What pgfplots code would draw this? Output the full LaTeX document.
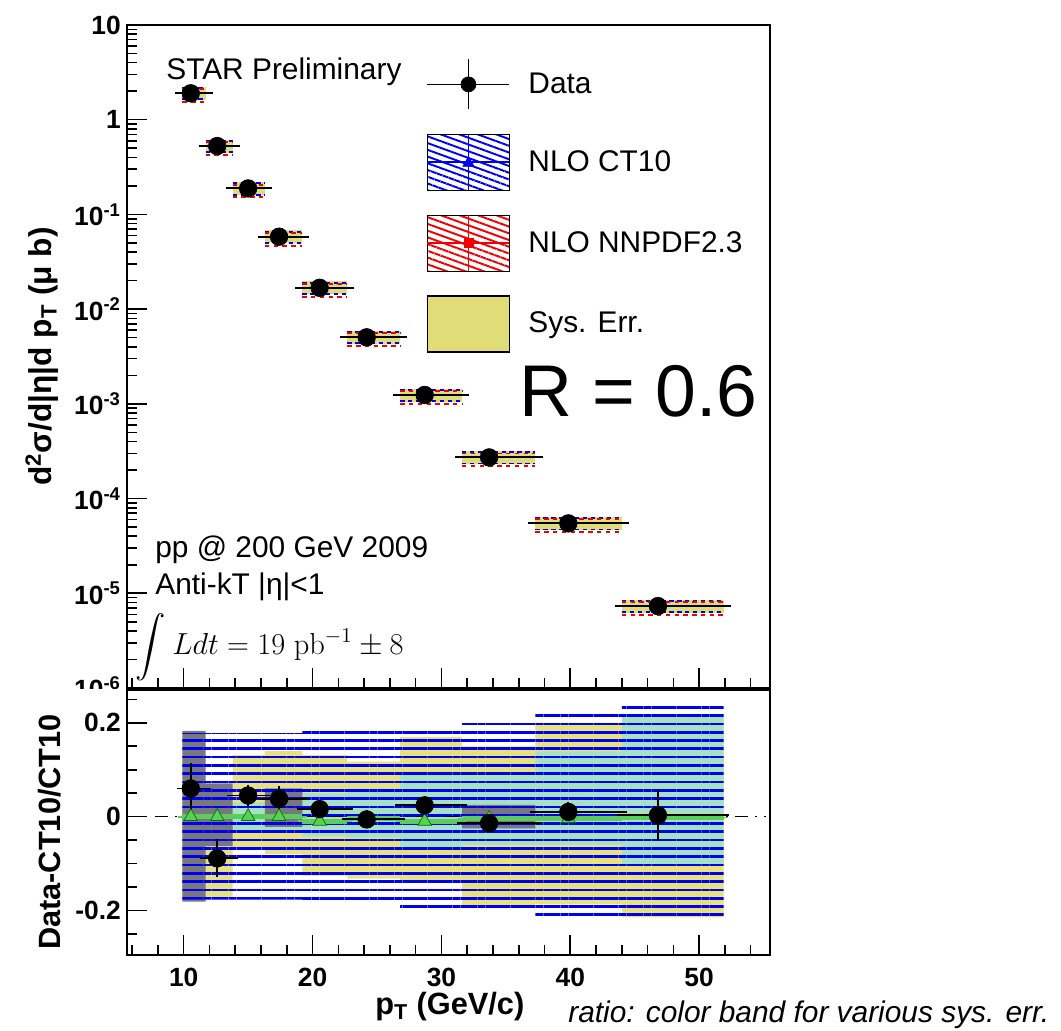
\documentclass[border=0pt]{standalone}
\usepackage{pgfplots}
\pgfplotsset{compat=1.18}
\usepackage{pgfplotstable}
\usepgfplotslibrary{fillbetween}
\usetikzlibrary{patterns,patterns.meta}
\usepackage{exscale}
\usepackage[no-math]{fontspec}
\setmainfont{Liberation Sans}

\definecolor{sysyellow}{RGB}{224,221,120}
\definecolor{bandyellow}{RGB}{232,226,122}
\definecolor{bandgreen}{RGB}{165,226,192}
\definecolor{bandgray}{RGB}{120,120,124}
\definecolor{ptgreen}{RGB}{90,205,90}
\definecolor{rootblue}{RGB}{0,0,240}
\definecolor{rootred}{RGB}{240,0,0}

% cross section, one row per bin
\pgfplotstableread{
x     y        xlo  xhi
10.55 1.90     9.9  11.7
12.6  0.527    11.7 13.8
15.0  0.188    13.8 16.3
17.4  0.0582   16.3 19.2
20.55 0.0168   19.2 22.7
24.2  0.00504  22.7 26.8
28.7  0.00124  26.8 31.6
33.7  2.72e-4  31.6 37.3
39.85 5.47e-5  37.3 44.0
46.8  7.33e-6  44.0 51.9
}\spec

% same values on bin edges (last edge repeated) for the boxes
\pgfplotstableread{
e    v
9.9  1.90
11.7 0.527
13.8 0.188
16.3 0.0582
19.2 0.0168
22.7 0.00504
26.8 0.00124
31.6 2.72e-4
37.3 5.47e-5
44.0 7.33e-6
51.9 7.33e-6
}\specbins

% ratio panel bands: CT10 theory, sys. err (yellow), green and gray components
\pgfplotstableread{
e    ctH   ctL    syH   syL    grH   grL    gyH   gyL
9.9  0.178 -0.177 0.064 -0.172 0     0      0.183 -0.181
11.7 0.178 -0.177 0.064 -0.172 0     0      0.071 -0.063
13.8 0.178 -0.177 0.131 -0.065 0.030 -0.030 0     0
16.3 0.178 -0.177 0.140 -0.080 0.030 -0.030 0.060 -0.022
19.2 0.194 -0.187 0.131 -0.126 0.050 -0.042 0     0
22.7 0.194 -0.187 0.117 -0.132 0.060 -0.045 0     0
26.8 0.194 -0.204 0.170 -0.137 0.095 -0.065 0     0
31.6 0.210 -0.204 0.150 -0.190 0.088 -0.060 0.025 -0.025
37.3 0.220 -0.219 0.200 -0.187 0.139 -0.060 0     0
44.0 0.238 -0.219 0.217 -0.215 0.217 -0.102 0     0
51.9 0.238 -0.219 0.217 -0.215 0.217 -0.102 0     0
}\ratiobands

\pgfplotstableread{
x     y      ey    xlo  xhi
10.55 0.060  0.043 9.9  11.7
12.6  -0.089 0.029 11.7 13.8
15.0  0.045  0.012 13.8 16.3
17.4  0.038  0.015 16.3 19.2
20.55 0.016  0.008 19.2 22.7
24.2  -0.006 0.008 22.7 26.8
28.7  0.024  0.008 26.8 31.6
33.7  -0.014 0.008 31.6 37.3
39.85 0.010  0.010 37.3 44.0
46.8  0.003  0.042 44.0 51.9
}\ratiodata

\pgfplotstableread{
x     y      xlo  xhi
10.55 0.000  9.9  11.7
12.6  0.000  11.7 13.8
15.0  0.000  13.8 16.3
17.4  0.000  16.3 19.2
20.55 -0.010 19.2 22.7
24.2  -0.004 22.7 26.8
28.7  -0.010 26.8 31.6
33.7  -0.004 31.6 37.3
39.85 -0.004 37.3 44.0
46.8  -0.002 44.0 51.9
}\nnpdf

\begin{document}
\begin{tikzpicture}

\begin{axis}[
  at={(2.54cm,6.86cm)}, anchor=south west,
  scale only axis, width=12.86cm, height=13.26cm,
  xmin=5.6, xmax=55.5, ymode=log, ymin=1e-6, ymax=10,
  axis line style={line width=1.1pt},
  tick align=inside, xtick pos=left, ytick pos=left,
  every tick/.style={black, line width=0.9pt},
  major tick length=0.4cm, minor tick length=0.2cm,
  xtick={10,20,30,40,50}, minor xtick={6,8,...,54}, xticklabels={},
  yticklabel={\pgfmathtruncatemacro{\ex}{round(\tick/2.302585)}\ifnum\ex=0 1\else\ifnum\ex=1 10\else 10\textsuperscript{\ex}\fi\fi},
  yticklabel style={font=\fontsize{15}{15}\selectfont\bfseries},
  ylabel={d\textsuperscript{2}σ/d|η|d p\textsubscript{T} (μ b)},
  ylabel style={font=\fontsize{18}{20}\selectfont\bfseries, at={(axis description cs:-0.132,0.5)}, anchor=center},
  legend cell align=left,
  legend style={at={(0.445,0.959)}, anchor=north west, draw=none, fill=white,
    inner xsep=0.26cm, inner ysep=0.12cm, row sep=0.46cm, column sep=0.36cm,
    font=\fontsize{17}{20}\selectfont, nodes={inner sep=0pt}},
]
  % sys. err boxes: one thick step per bin, no risers
  \addplot[sysyellow, line width=0.26cm, jump mark left, forget plot] table[x=e, y=v] {\specbins};
  % NLO bands, visible as dashed edges round the boxes
  \addplot[rootblue, line width=1.1pt, dash pattern=on 2.5pt off 2pt, jump mark left, forget plot] table[x=e, y expr=\thisrow{v}*1.13] {\specbins};
  \addplot[rootblue, line width=1.1pt, dash pattern=on 2.5pt off 2pt, jump mark left, forget plot] table[x=e, y expr=\thisrow{v}/1.16] {\specbins};
  \addplot[rootred, line width=1.1pt, dash pattern=on 2.5pt off 2.5pt, jump mark left, forget plot] table[x=e, y expr=\thisrow{v}*1.10] {\specbins};
  \addplot[rootred, line width=1.1pt, dash pattern=on 2.5pt off 2.5pt, jump mark left, forget plot] table[x=e, y expr=\thisrow{v}/1.24] {\specbins};
  \addplot[black, only marks, mark=*, mark size=5pt, forget plot,
    error bars/.cd, x dir=both, x explicit,
    error bar style={line width=1.1pt, black},
    error mark options={mark size=4pt, line width=1.1pt, black}]
    table[x=x, y=y, x error plus expr=\thisrow{xhi}-\thisrow{x}, x error minus expr=\thisrow{x}-\thisrow{xlo}] {\spec};

  \addlegendimage{legend image code/.code={
    \draw[black, line width=1pt] (0cm,0cm) -- (1.64cm,0cm);
    \draw[black, line width=1pt] (0.82cm,-0.5cm) -- (0.82cm,0.5cm);
    \fill[black] (0.82cm,0cm) circle (0.15cm);}}
  \addlegendentry{Data}
  \addlegendimage{legend image code/.code={
    \path[pattern={Lines[angle=-20,distance=3.6pt,line width=1.1pt]}, pattern color=rootblue] (0cm,-0.56cm) rectangle (1.64cm,0.56cm);
    \draw[rootblue, line width=1pt] (0cm,0cm) -- (1.64cm,0cm) (0.82cm,-0.56cm) -- (0.82cm,0.56cm);
    \fill[rootblue] (0.82cm,0.11cm) -- (0.71cm,-0.08cm) -- (0.93cm,-0.08cm) -- cycle;}}
  \addlegendentry{NLO CT10}
  \addlegendimage{legend image code/.code={
    \path[pattern={Lines[angle=-20,distance=3.6pt,line width=1.1pt]}, pattern color=rootred] (0cm,-0.56cm) rectangle (1.64cm,0.56cm);
    \draw[rootred, line width=1pt] (0cm,0cm) -- (1.64cm,0cm) (0.82cm,-0.56cm) -- (0.82cm,0.56cm);
    \fill[rootred] (0.73cm,-0.09cm) rectangle (0.91cm,0.09cm);}}
  \addlegendentry{NLO NNPDF2.3}
  \addlegendimage{legend image code/.code={
    \draw[fill=sysyellow, draw=black, line width=1pt] (0cm,-0.56cm) rectangle (1.64cm,0.56cm);}}
  \addlegendentry{Sys. Err.}
\end{axis}

% the ratio pad covers the lower half of the last tick label
\fill[white] (0,5.0) rectangle (2.50,6.83);

\begin{axis}[
  at={(2.54cm,1.52cm)}, anchor=south west,
  scale only axis, width=12.86cm, height=5.30cm,
  xmin=5.6, xmax=55.5, ymin=-0.295, ymax=0.27,
  axis line style={line width=1.1pt},
  tick align=inside, xtick pos=left, ytick pos=left,
  every tick/.style={black, line width=0.9pt},
  major tick length=0.4cm, minor tick length=0.2cm,
  xtick={10,20,30,40,50}, xticklabels={10,20,30,40,50}, minor xtick={6,8,...,54},
  ytick={-0.2,0,0.2}, yticklabels={-0.2,0,0.2},
  minor ytick={-0.25,-0.15,-0.1,-0.05,0.05,0.1,0.15,0.25},
  xticklabel style={font=\fontsize{15}{15}\selectfont\bfseries, yshift=-0.14cm},
  yticklabel style={font=\fontsize{15}{15}\selectfont\bfseries},
  xlabel={p\textsubscript{T} (GeV/c)},
  xlabel style={font=\fontsize{17.5}{20}\selectfont\bfseries, at={(axis description cs:0.502,-0.226)}, anchor=base},
  ylabel={Data-CT10/CT10},
  ylabel style={font=\fontsize{17.5}{20}\selectfont\bfseries, at={(axis description cs:-0.121,0.464)}, anchor=center},
]
  \addplot[draw=none, const plot, name path=ctH, forget plot] table[x=e, y=ctH] {\ratiobands};
  \addplot[draw=none, const plot, name path=ctL, forget plot] table[x=e, y=ctL] {\ratiobands};
  \addplot[draw=none, const plot, name path=syH, forget plot] table[x=e, y=syH] {\ratiobands};
  \addplot[draw=none, const plot, name path=syL, forget plot] table[x=e, y=syL] {\ratiobands};
  \addplot[draw=none, const plot, name path=grH, forget plot] table[x=e, y=grH] {\ratiobands};
  \addplot[draw=none, const plot, name path=grL, forget plot] table[x=e, y=grL] {\ratiobands};
  \addplot[draw=none, const plot, name path=gyH, forget plot] table[x=e, y=gyH] {\ratiobands};
  \addplot[draw=none, const plot, name path=gyL, forget plot] table[x=e, y=gyL] {\ratiobands};
  \addplot[fill=bandyellow, draw=none, forget plot] fill between[of=syH and syL];
  \addplot[fill=bandgreen, draw=none, forget plot] fill between[of=grH and grL];
  \addplot[fill=bandgray, draw=none, forget plot] fill between[of=gyH and gyL];
  \addplot[draw=none, pattern={Lines[angle=0,distance=0.166cm,line width=1.5pt]}, pattern color=rootblue, forget plot] fill between[of=ctH and ctL];
  \addplot[black, line width=0.8pt, dash pattern=on 7pt off 4pt on 1.5pt off 4pt, forget plot] coordinates {(7.8,0) (55.2,0)};
  \addplot[only marks, mark=triangle*, mark size=4.5pt, color=ptgreen, mark options={fill=ptgreen, draw=green!45!black}, forget plot,
    error bars/.cd, x dir=both, x explicit,
    error bar style={line width=2.5pt, ptgreen},
    error mark options={mark size=2.5pt, line width=1pt, ptgreen}]
    table[x=x, y=y, x error plus expr=\thisrow{xhi}-\thisrow{x}, x error minus expr=\thisrow{x}-\thisrow{xlo}] {\nnpdf};
  \addplot[only marks, mark=*, mark size=5pt, black, forget plot,
    error bars/.cd, x dir=both, x explicit, y dir=both, y explicit,
    error bar style={line width=1.1pt, black},
    error mark options={mark size=3pt, line width=1.1pt, black}]
    table[x=x, y=y, y error=ey, x error plus expr=\thisrow{xhi}-\thisrow{x}, x error minus expr=\thisrow{x}-\thisrow{xlo}] {\ratiodata};
\end{axis}

\node[anchor=base west, inner sep=0pt, font=\fontsize{17}{20}\selectfont] at (3.32,19.02) {STAR Preliminary};
\node[anchor=base west, inner sep=0pt, font=\fontsize{41.7}{46}\selectfont] at (10.38,12.28) {R = 0.6};
\node[anchor=base west, inner sep=0pt, font=\fontsize{17}{20}\selectfont] at (3.10,9.46) {pp @ 200 GeV 2009};
\node[anchor=base west, inner sep=0pt, font=\fontsize{17}{20}\selectfont] at (3.10,8.72) {Anti-kT |η|<1};
\node[inner sep=0pt, font=\fontsize{17.28}{20}\selectfont] at (3.02,7.68) {$\displaystyle\int$};
\node[anchor=base west, inner sep=0pt, font=\fontsize{17.5}{21}\selectfont] at (3.44,7.52) {$Ldt = 19\ \mathrm{pb}^{-1} \pm 8$};
\node[anchor=base west, inner sep=0pt, font=\fontsize{17}{20}\selectfont\itshape] at (11.36,0.16) {ratio: color band for various sys. err.};

\pgfresetboundingbox
\path[use as bounding box] (0,0) rectangle (21.22,20.62);
\end{tikzpicture}
\end{document}
